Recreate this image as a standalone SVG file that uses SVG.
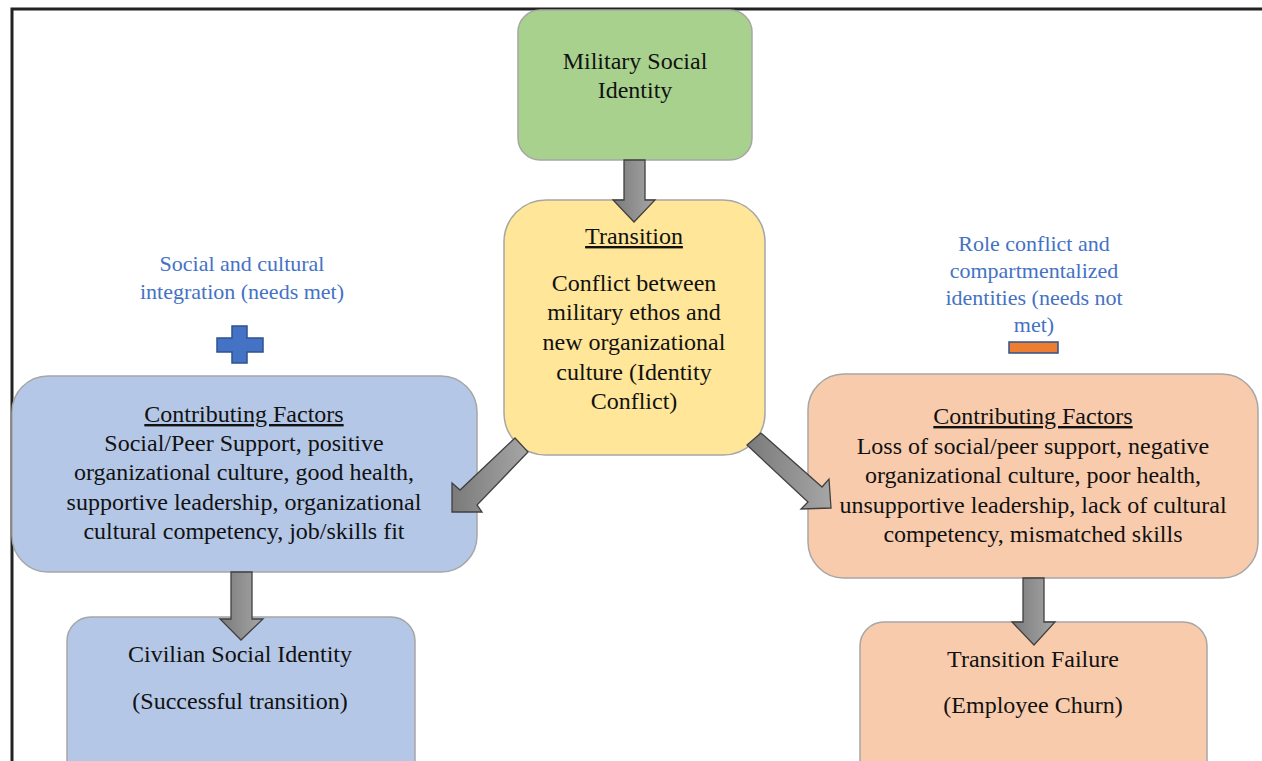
<svg xmlns="http://www.w3.org/2000/svg" width="1262" height="761" viewBox="0 0 1262 761">
<defs>
<linearGradient id="ag" x1="0" y1="0" x2="1" y2="0">
<stop offset="0" stop-color="#7a7a7a"/><stop offset="1" stop-color="#a6a6a6"/>
</linearGradient>
<style>
.box{stroke:#a6a6a6;stroke-width:1.5}
.t{font-family:"Liberation Serif","Times New Roman",serif;font-size:24px;fill:#111;text-anchor:middle}
.b{font-family:"Liberation Serif","Times New Roman",serif;font-size:22px;fill:#4472c4;text-anchor:middle}
.u{text-decoration:underline}
.arr{fill:url(#ag);stroke:#404040;stroke-width:1.3;stroke-linejoin:miter}
</style>
</defs>
<rect width="1262" height="761" fill="#fff"/>
<path d="M12 761 V9 H1262" fill="none" stroke="#222" stroke-width="3"/>

<g id="military">
<rect class="box" x="518" y="10" width="234" height="150" rx="22" fill="#a9d18e"/>
<text class="t" x="635" y="69">Military Social</text>
<text class="t" x="635" y="98">Identity</text>
</g>

<g id="transition">
<rect class="box" x="504" y="200" width="261" height="255" rx="42" fill="#ffe699"/>
<text class="t u" x="634" y="244">Transition</text>
<text class="t" x="634" y="291">Conflict between</text>
<text class="t" x="634" y="320">military ethos and</text>
<text class="t" x="634" y="350">new organizational</text>
<text class="t" x="634" y="380">culture (Identity</text>
<text class="t" x="634" y="409">Conflict)</text>
</g>

<g id="needs-met">
<text class="b" x="242" y="271">Social and cultural</text>
<text class="b" x="242" y="299">integration (needs met)</text>
<path d="M232 326 H247 V338 H263 V352 H247 V363 H232 V352 H217 V338 H232 Z" fill="#4472c4" stroke="#2f528f" stroke-width="1.5"/>
</g>

<g id="needs-not-met">
<text class="b" x="1034" y="251">Role conflict and</text>
<text class="b" x="1034" y="278">compartmentalized</text>
<text class="b" x="1034" y="305">identities (needs not</text>
<text class="b" x="1034" y="332">met)</text>
<rect x="1009" y="342" width="49" height="11" fill="#ed7d31" stroke="#2f528f" stroke-width="1.5"/>
</g>

<g id="factors-positive">
<rect class="box" x="12" y="376" width="465" height="196" rx="36" fill="#b4c7e7"/>
<text class="t u" x="244" y="422">Contributing Factors</text>
<text class="t" x="244" y="451">Social/Peer Support, positive</text>
<text class="t" x="244" y="480">organizational culture, good health,</text>
<text class="t" x="244" y="510">supportive leadership, organizational</text>
<text class="t" x="244" y="539">cultural competency, job/skills fit</text>
</g>

<g id="factors-negative">
<rect class="box" x="808" y="374" width="450" height="204" rx="36" fill="#f8cbad"/>
<text class="t u" x="1033" y="424">Contributing Factors</text>
<text class="t" x="1033" y="454">Loss of social/peer support, negative</text>
<text class="t" x="1033" y="483">organizational culture, poor health,</text>
<text class="t" x="1033" y="513">unsupportive leadership, lack of cultural</text>
<text class="t" x="1033" y="542">competency, mismatched skills</text>
</g>

<g id="civilian">
<rect class="box" x="67" y="617" width="348" height="170" rx="24" fill="#b4c7e7"/>
<text class="t" x="240" y="662">Civilian Social Identity</text>
<text class="t" x="240" y="709">(Successful transition)</text>
</g>

<g id="failure">
<rect class="box" x="860" y="622" width="347" height="170" rx="24" fill="#f8cbad"/>
<text class="t" x="1033" y="667">Transition Failure</text>
<text class="t" x="1033" y="713">(Employee Churn)</text>
</g>

<g id="connectors">
<path class="arr" d="M624 160 H645 V200 H655 L634 222 L613 200 H624 Z"/>
<path class="arr" d="M231 572 H252 V619 H263 L241 640 L220 619 H231 Z"/>
<path class="arr" d="M1023 578 H1044 V622 H1055 L1034 645 L1012 622 H1023 Z"/>
<path class="arr" d="M515 438 L528 452 L477 505 L482 512 L452 512 L452 483 L460 490 Z"/>
<path class="arr" d="M761 433 L747 445 L808 502 L801 509 L831 508 L829 479 L822 487 Z"/>
</g>
</svg>
